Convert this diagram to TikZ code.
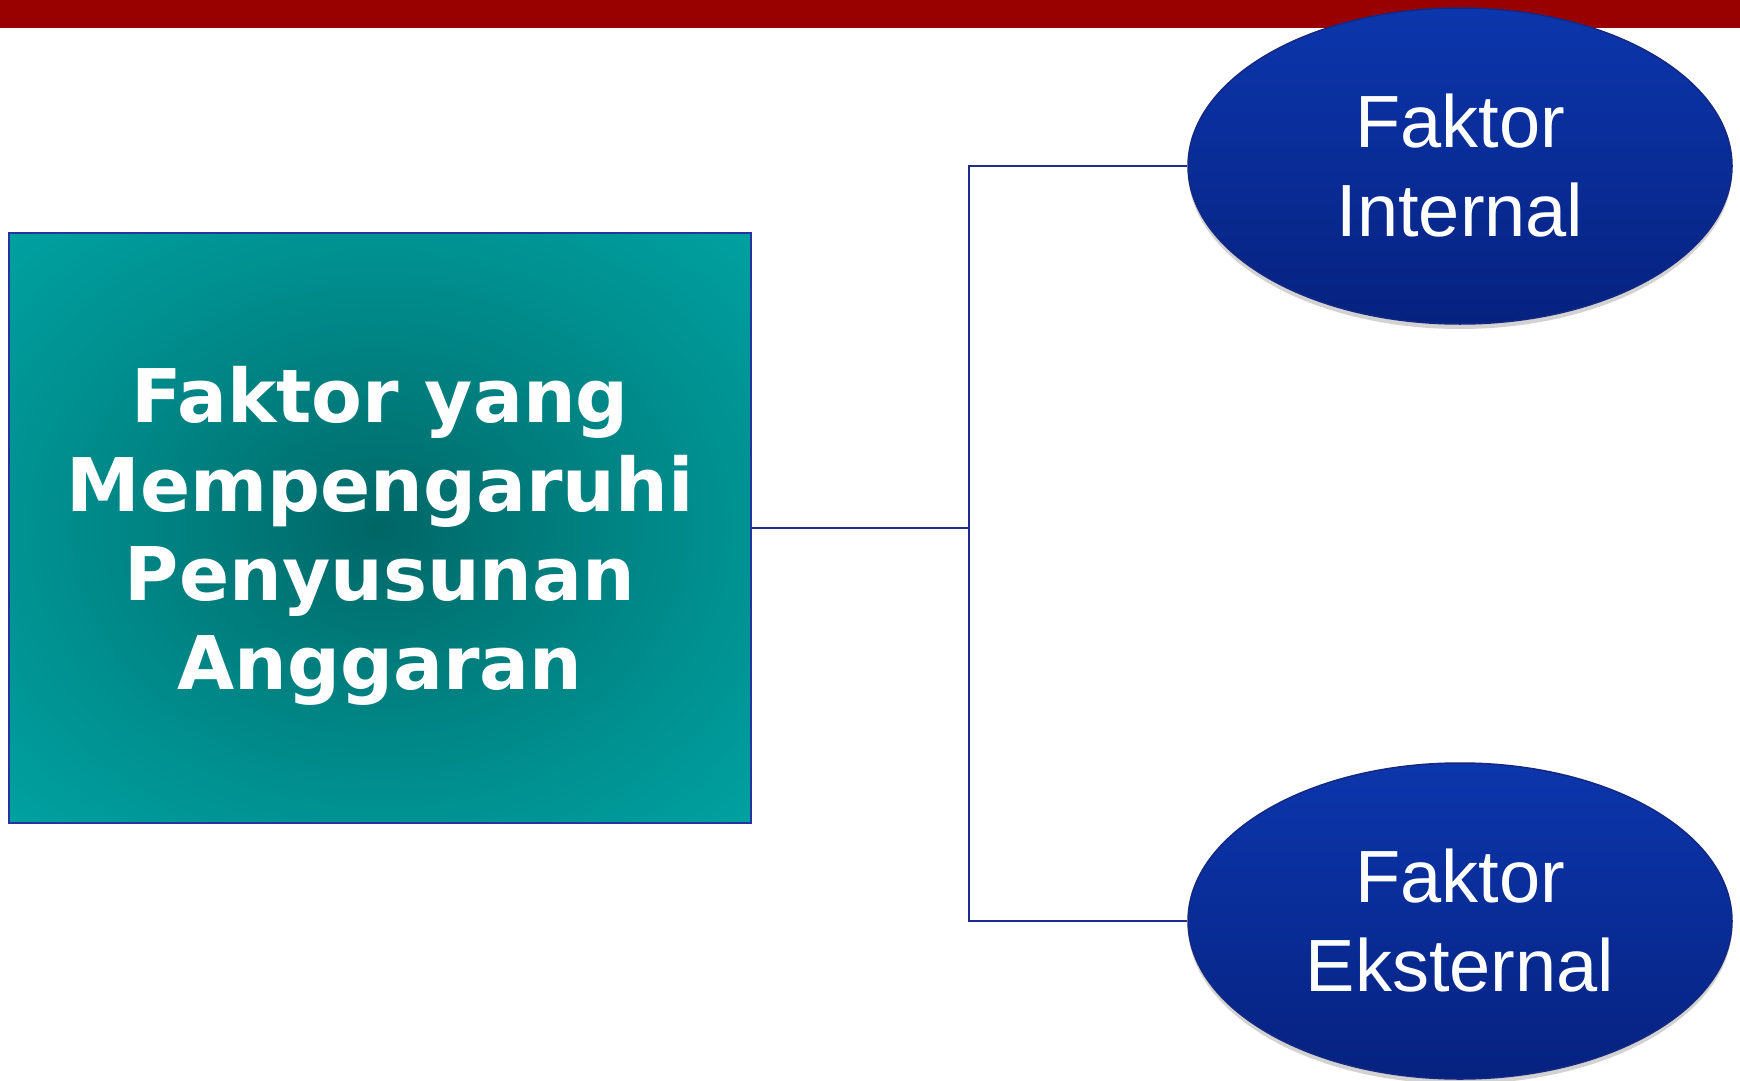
\documentclass[tikz,border=0pt]{standalone}
\usepackage{fontspec}
\setmainfont{Liberation Sans}
\newfontfamily\boxfont{DejaVu Sans}
\usetikzlibrary{shapes.geometric,shadows}
\definecolor{barred}{RGB}{153,0,0}
\definecolor{tealin}{RGB}{0,102,102}
\definecolor{tealq}{RGB}{0,118,118}
\definecolor{tealmid}{RGB}{0,142,142}
\definecolor{tealout}{RGB}{0,162,162}
\definecolor{boxline}{RGB}{36,52,160}
\definecolor{conline}{RGB}{30,45,140}
\definecolor{elltop}{RGB}{12,54,172}
\definecolor{ellbot}{RGB}{6,34,128}
\definecolor{ellline}{RGB}{20,40,130}
\pgfdeclareradialshading{tealrad}{\pgfpoint{0bp}{0bp}}{color(0bp)=(tealin); color(8bp)=(tealq); color(22bp)=(tealmid); color(36bp)=(tealout); color(50bp)=(tealout)}
\tikzset{
  mainbox/.style={rectangle, draw=boxline, line width=2pt, shading=tealrad,
    minimum width=742pt, minimum height=590pt, inner sep=0pt, text=white,
    align=center, text depth=0pt,
    font=\boxfont\bfseries\fontsize{74}{89}\selectfont},
  factor/.style={ellipse, draw=ellline, line width=1.5pt, top color=elltop,
    bottom color=ellbot, minimum width=544pt, minimum height=316pt,
    inner sep=0pt, text=white, align=center,
    font=\fontsize{74}{89}\selectfont,
    drop shadow={shadow xshift=0pt, shadow yshift=-5pt, opacity=0.35}},
  conn/.style={draw=conline, line width=2pt}
}
\begin{document}
\begin{tikzpicture}[x=1pt,y=-1pt]
\useasboundingbox (0,0) rectangle (1740,1081);
\fill[white] (0,0) rectangle (1740,1081);
\fill[barred] (0,0) rectangle (1740,28);
\node[mainbox] (box) at (380,528) {Faktor yang\\Mempengaruhi\\Penyusunan\\Anggaran};
\coordinate (j) at (969,528);
\draw[conn] (box.east) -- (j);
\node[factor] (fi) at (1460,166) {Faktor\\Internal};
\node[factor] (fe) at (1460,921) {Faktor\\Eksternal};
\draw[conn] (j) |- (fi.west);
\draw[conn] (j) |- (fe.west);
\end{tikzpicture}
\end{document}
